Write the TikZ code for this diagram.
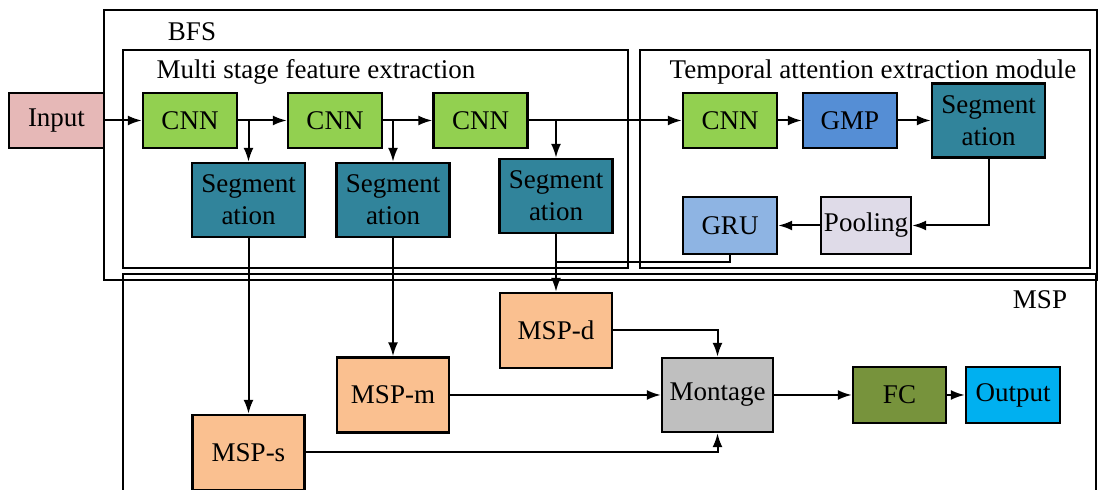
\documentclass[tikz,border=0pt]{standalone}
\usepackage{fontspec}
\setmainfont{Liberation Serif}
\usetikzlibrary{arrows.meta}

\definecolor{inpink}{HTML}{E6B8B7}
\definecolor{cnngreen}{HTML}{92D050}
\definecolor{segteal}{HTML}{31849B}
\definecolor{gmpblue}{HTML}{558ED5}
\definecolor{grublue}{HTML}{8EB4E3}
\definecolor{poollav}{HTML}{DFDBE8}
\definecolor{msppeach}{HTML}{FAC090}
\definecolor{montgray}{HTML}{BFBFBF}
\definecolor{fcolive}{HTML}{77933C}
\definecolor{outcyan}{HTML}{00B0F0}

\begin{document}
\begin{tikzpicture}[x=0.5pt, y=-0.5pt,
         txt/.style={font=\fontsize{13.5}{16}\selectfont, inner sep=0pt},
         box/.style={txt, draw, line width=1.2pt, align=center,
                minimum width=47pt, minimum height=27.5pt},
         seg/.style={box, fill=segteal,
                minimum width=56.5pt, minimum height=37pt},
         msp/.style={box, fill=msppeach,
                minimum width=56pt, minimum height=37.5pt},
         frame/.style={line width=1pt},
         arr/.style={-{Latex[length=7pt, width=5pt]}, line width=1pt},
         ]
\useasboundingbox (0,0) rectangle (1099,490);
%%% frames
\draw[frame] (104,10) rectangle (1097,280);
\draw[frame] (123,50) rectangle (628,268);
\draw[frame] (640,50) rectangle (1090,268);
\draw[frame] (123,495) -- (123,274) -- (1096,274) -- (1096,495);
\node[txt] (bfs) at (192,32) {BFS};
\node[txt] (multi) at (316,72) {Multi stage feature extraction};
\node[txt] (temporal) at (873,72) {Temporal attention extraction module};
\node[txt] (msplabel) at (1040,300) {MSP};
%%% feature extraction
\node[box, fill=inpink, minimum width=47.5pt] (input) at (56.5,120.5) {Input};
\node[box, fill=cnngreen] (cnn1) at (190,120.5) {CNN};
\node[box, fill=cnngreen] (cnn2) at (335,120.5) {CNN};
\node[box, fill=cnngreen] (cnn3) at (480.5,120.5) {CNN};
\node[seg] (seg1) at (248.5,200) {Segment\\ation};
\node[seg] (seg2) at (393,200) {Segment\\ation};
\node[seg] (seg3) at (556,196) {Segment\\ation};
%%% temporal attention
\node[box, fill=cnngreen] (cnn4) at (730,120.5) {CNN};
\node[box, fill=gmpblue] (gmp) at (850,120.5) {GMP};
\node[seg] (seg4) at (988.5,120.5) {Segment\\ation};
\node[box, fill=poollav, minimum width=45pt, minimum height=28.5pt] (pool) at (866,225.5) {Pooling};
\node[box, fill=grublue, minimum height=28.5pt] (gru) at (730,225.5) {GRU};
\coordinate (join) at (556,262);
%%% MSP
\node[msp] (mspd) at (556,330.5) {MSP-d};
\node[msp] (mspm) at (393,395) {MSP-m};
\node[msp] (msps) at (248.5,452.5) {MSP-s};
\node[box, fill=montgray, minimum width=55.5pt, minimum height=37pt] (montage) at (717.5,395) {Montage};
\node[box, fill=fcolive, minimum width=46.5pt, minimum height=28pt] (fc) at (899.5,395) {FC};
\node[box, fill=outcyan, minimum width=47pt, minimum height=28pt] (output) at (1013,395) {Output};
%%% connectors
\draw[arr] (input) -- (cnn1);
\draw[arr] (cnn1) -- (cnn2);
\draw[arr] (cnn2) -- (cnn3);
\draw[arr] (cnn3) -- (cnn4);
\draw[arr] (seg1.north |- cnn1.east) -- (seg1.north);
\draw[arr] (seg2.north |- cnn2.east) -- (seg2.north);
\draw[arr] (seg3.north |- cnn3.east) -- (seg3.north);
\draw[arr] (cnn4) -- (gmp);
\draw[arr] (gmp) -- (seg4);
\draw[arr] (seg4.south) |- (pool.east);
\draw[arr] (pool) -- (gru);
\draw[line width=1pt] (gru.south) |- (join);
\draw[arr] (seg3.south) -- (mspd.north);
\draw[arr] (seg2.south) -- (mspm.north);
\draw[arr] (seg1.south) -- (msps.north);
\draw[arr] (mspd.east) -| (montage.north);
\draw[arr] (mspm) -- (montage);
\draw[arr] (msps.east) -| (montage.south);
\draw[arr] (montage) -- (fc);
\draw[arr] (fc) -- (output);
\end{tikzpicture}
\end{document}
